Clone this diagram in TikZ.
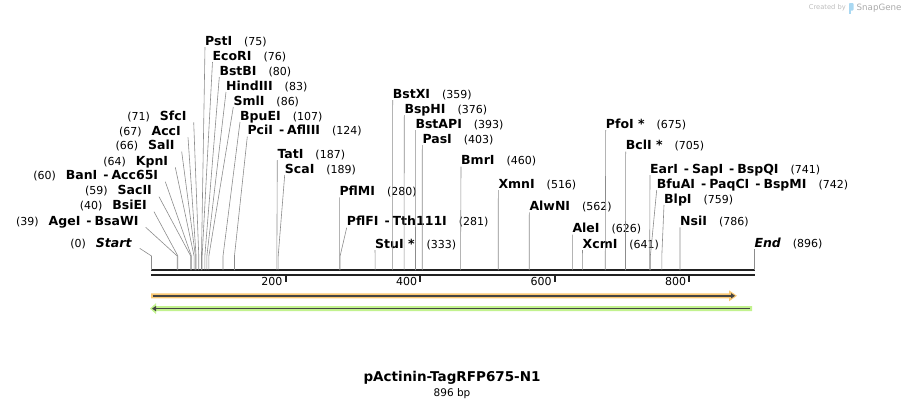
\documentclass[tikz,border=0pt]{standalone}
\usepackage{fontspec}
\setmainfont{DejaVu Sans}
\usetikzlibrary{arrows.meta}
\usetikzlibrary{positioning}

\definecolor{sitegray}{HTML}{8C8C8C}
\definecolor{bbdark}{HTML}{222222}
\definecolor{featdark}{HTML}{444444}
\definecolor{featorange}{HTML}{FAC873}
\definecolor{featgreen}{HTML}{C2F28E}
\definecolor{logogray}{HTML}{BDBDBD}
\definecolor{logoblue}{HTML}{A9D8F2}

\newcommand{\enzname}[1]{{\fontsize{12.5}{14}\selectfont\bfseries #1}}

\begin{document}
\begin{tikzpicture}[x=1pt, y=-1pt,
    lab/.style={inner sep=0pt, text height=8.5pt, text depth=2pt, font=\fontsize{11}{13}\selectfont},
    rlab/.style={lab, anchor=west},
    llab/.style={lab, anchor=east},
    siteline/.style={sitegray, line width=0.6pt},
    backbone/.style={bbdark, line width=2pt}]
\useasboundingbox (0,0) rectangle (906,408);

% backbone
\coordinate (b0) at (151,270);
\coordinate (b1) at (755,270);
\draw[backbone] (b0) -- (b1);
\draw[backbone] ([yshift=-4.5pt]b0) -- ([yshift=-4.5pt]b1);
\foreach \k in {200,400,600,800}{
    \coordinate (t\k) at ({151+0.673*\k},275.5);
    \draw[backbone] (t\k) -- ++(0,6);
    \node[llab] (tl\k) at ([shift={(-3,6.5)}]t\k) {\k};
}

% sites labelled on the right
\foreach \nm/\nr/\lx/\ly [count=\i] in {
    PstI/75/205/42, EcoRI/76/212.5/57, BstBI/80/219.3/72, HindIII/83/226/87,
    SmlI/86/233.3/102, BpuEI/107/240/117,
    {PciI\hspace{6pt}-\hspace{3pt}AflIII}/124/247.3/131.7,
    TatI/187/277.3/155, ScaI/189/284.7/170, PflMI/280/339.3/192.3,
    {PflFI\hspace{6pt}-\hspace{3pt}Tth111I}/281/346.7/222.7,
    {StuI *}/333/375/245, BstXI/359/392.7/95, BspHI/376/404.3/110,
    BstAPI/393/415.3/125, PasI/403/422.3/140, BmrI/460/461/161.7,
    XmnI/516/498.3/185, AlwNI/562/529.3/207.3, AleI/626/572.3/229.5,
    XcmI/641/582.5/245, {PfoI *}/675/605.7/125, {BclI *}/705/625.7/146.7,
    {EarI\hspace{6pt}-\hspace{3pt}SapI\hspace{6pt}-\hspace{3pt}BspQI}/741/650/170,
    {BfuAI\hspace{6pt}-\hspace{3pt}PaqCI\hspace{6pt}-\hspace{3pt}BspMI}/742/656.7/185,
    BlpI/759/664/200, NsiI/786/680/222.3}{
    \node[rlab] (r\i) at (\lx,\ly) {\enzname{\nm}\hspace{12pt}(\nr)};
    \coordinate (s\i) at ({151+0.673*\nr},256);
    \draw[siteline] ([shift={(0,5)}]r\i.west) -- (s\i) -- (s\i |- b0);
}

% sites labelled on the left
\foreach \nm/\nr/\rx/\ly [count=\i] in {
    SfcI/71/186.7/117.3, AccI/67/181/132.3, SalI/66/174.7/146.7,
    KpnI/64/168.3/162.3, {BanI\hspace{6pt}-\hspace{3pt}Acc65I}/60/158.3/176.7,
    SacII/59/152/191.7, BsiEI/40/147/206.7,
    {AgeI\hspace{6pt}-\hspace{3pt}BsaWI}/39/138.7/222.3}{
    \node[llab] (l\i) at (\rx,\ly) {(\nr)\hspace{10pt}\enzname{\nm}};
    \coordinate (u\i) at ({151+0.673*\nr},256);
    \draw[siteline] ([shift={(7,5)}]l\i.east) -- (u\i) -- (u\i |- b0);
}

% start and end
\node[llab] (start) at (131.7,244.3) {(0)\hspace{10pt}\enzname{\itshape Start}};
\coordinate (s0) at (151.5,256);
\draw[siteline] ([shift={(8,4)}]start.east) -- (s0) -- (s0 |- b0);
\node[rlab] (end) at (754.3,244) {\enzname{\itshape End}\hspace{12pt}(896)};
\coordinate (s896) at (754.3,256);
\draw[siteline] ([shift={(0,5)}]end.west) -- (s896) -- (s896 |- b0);

% features
\fill[featorange] (151,293.3) -- (729,293.3) -- (729,290.3) -- (737,295.8)
    -- (729,301.3) -- (729,298.3) -- (151,298.3) -- cycle;
\draw[featdark, line width=1.6pt, -{Triangle[length=4pt,width=5pt]}] (152.5,295.8) -- (735,295.8);
\fill[featgreen] (752,306) -- (156,306) -- (156,303.2) -- (150,308.6)
    -- (156,314) -- (156,311.2) -- (752,311.2) -- cycle;
\draw[featdark, line width=1.6pt, -{Triangle[length=4pt,width=5pt]}] (750,308.6) -- (152,308.6);

% title
\node[inner sep=0pt, font=\fontsize{13.5}{16}\selectfont\bfseries] (title) at (452,378.3) {pActinin-TagRFP675-N1};
\node[inner sep=0pt, font=\fontsize{10.5}{12}\selectfont, below=3.2pt of title] (bp) {896 bp};

% logo
\node[inner sep=0pt, anchor=east, logogray, font=\fontsize{6.7}{8}\selectfont] (created) at (846,8) {Created by};
\fill[logoblue, rounded corners=0.8pt] (849,3) rectangle (853.5,10.5);
\fill[logoblue] (849,9) rectangle (851,14);
\node[inner sep=0pt, anchor=west, logogray!90!black, font=\fontsize{8.7}{10}\selectfont] (snap) at (856.5,8) {SnapGene};
\end{tikzpicture}
\end{document}
